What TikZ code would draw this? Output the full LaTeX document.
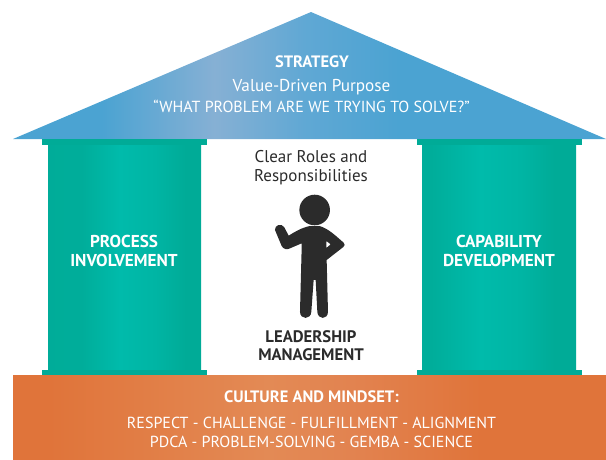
\documentclass[tikz,border=0pt]{standalone}
\usepackage{fontspec}
\setmainfont{PT Sans}
\definecolor{capteal}{HTML}{00AB97}
\definecolor{txtdark}{HTML}{2B2B2B}
\definecolor{rA}{HTML}{4BA3D2}
\definecolor{rB}{HTML}{86B0D4}
\definecolor{rC}{HTML}{60A8D4}
\definecolor{pA}{HTML}{00AB97}
\definecolor{pB}{HTML}{00AD9A}
\definecolor{pC}{HTML}{00BBAB}
\definecolor{pD}{HTML}{00B5A4}
\definecolor{bA}{HTML}{E0743A}
\definecolor{bB}{HTML}{E38A55}
\definecolor{bC}{HTML}{E28350}
\pgfdeclarehorizontalshading{roofgrad}{100bp}{
 color(0bp)=(rA); color(32.5bp)=(rA); color(42bp)=(rB); color(49.5bp)=(rC); color(57.5bp)=(rA); color(100bp)=(rA)}
\pgfdeclarehorizontalshading{pillarleft}{100bp}{
 color(0bp)=(pA); color(36bp)=(pB); color(48.5bp)=(pC); color(60bp)=(pD); color(70bp)=(pA); color(100bp)=(pA)}
\pgfdeclarehorizontalshading{pillarright}{100bp}{
 color(0bp)=(pA); color(28bp)=(pB); color(44bp)=(pC); color(57bp)=(pD); color(68bp)=(pA); color(100bp)=(pA)}
\pgfdeclarehorizontalshading{basegrad}{100bp}{
 color(0bp)=(bA); color(28bp)=(bA); color(46.5bp)=(bB); color(53.5bp)=(bC); color(64.5bp)=(bA); color(100bp)=(bA)}
\tikzset{
 x=1pt,y=-1pt,
 heading/.style={font=\fontsize{17.2}{19}\selectfont\bfseries,text=white,inner sep=0pt,align=center},
 subhead/.style={font=\fontsize{16.5}{19}\selectfont\bfseries,text=white,inner sep=0pt,align=center},
 body/.style={font=\fontsize{17.2}{19}\selectfont,text=white,inner sep=0pt,align=center},
 capsbody/.style={font=\fontsize{16}{19}\selectfont,text=white,inner sep=0pt,align=center},
 darktext/.style={font=\fontsize{17}{19}\selectfont,text=txtdark,inner sep=0pt,align=center},
 darkhead/.style={font=\fontsize{16.7}{18}\selectfont\bfseries,text=txtdark,inner sep=0pt,align=center},
}
\begin{document}
\begin{tikzpicture}
\useasboundingbox (0,0) rectangle (606,459);
% roof
\shade[shading=roofgrad] (13,139) -- (311,12) -- (606,139) -- cycle;
% left pillar
\fill[capteal] (42,139) rectangle (207,145);
\shade[shading=pillarleft] (48,145) rectangle (201,370);
\fill[capteal] (42,370) rectangle (207,375);
% right pillar
\fill[capteal] (417,139) rectangle (582,145);
\shade[shading=pillarright] (422,145) rectangle (576,370);
\fill[capteal] (417,370) rectangle (582,375);
% base
\shade[shading=basegrad] (13,375) rectangle (606,459);
% person
\begin{scope}[shift={(230,180)},x=0.3333pt,y=-0.3333pt]
\fill[txtdark] (254,90) circle (15.3pt);
\fill[txtdark,even odd rule]
 (135,150) .. controls (133,135) and (155,128) .. (163,142)
 -- (176,167) .. controls (195,155) and (215,143) .. (240,138)
 -- (268,138) .. controls (295,145) and (320,170) .. (341,188)
 .. controls (345,193) and (345,197) .. (340,201)
 -- (290,240) -- (294,395) .. controls (294,420) and (263,420) .. (262,395)
 -- (257,300) -- (251,300) -- (244,395) .. controls (243,420) and (210,420) .. (210,395)
 -- (215,205) -- (215,190) -- (180,205) .. controls (172,210) and (160,208) .. (155,198)
 -- cycle
 (289,183) -- (302,193) -- (289,204) -- cycle;
\end{scope}
% texts
\node[subhead] (strategy) at (312,62) {STRATEGY};
\node[body] (purpose) at (311.5,87) {Value-Driven Purpose};
\node[capsbody] (question) at (311.5,106) {“WHAT PROBLEM ARE WE TRYING TO SOLVE?”};
\node[heading] (proc) at (124,251) {PROCESS\\INVOLVEMENT};
\node[heading] (capab) at (499,251) {CAPABILITY\\DEVELOPMENT};
\node[darktext] (roles) at (311,168) {Clear Roles and\\Responsibilities};
\node[darkhead] (lead) at (311,345.5) {LEADERSHIP\\MANAGEMENT};
\node[subhead] (culture) at (311.5,397) {CULTURE AND MINDSET:};
\node[capsbody] (respect) at (311.5,423) {RESPECT - CHALLENGE - FULFILLMENT - ALIGNMENT};
\node[capsbody] (pdca) at (311.5,442) {PDCA - PROBLEM-SOLVING - GEMBA - SCIENCE};
\end{tikzpicture}
\end{document}
